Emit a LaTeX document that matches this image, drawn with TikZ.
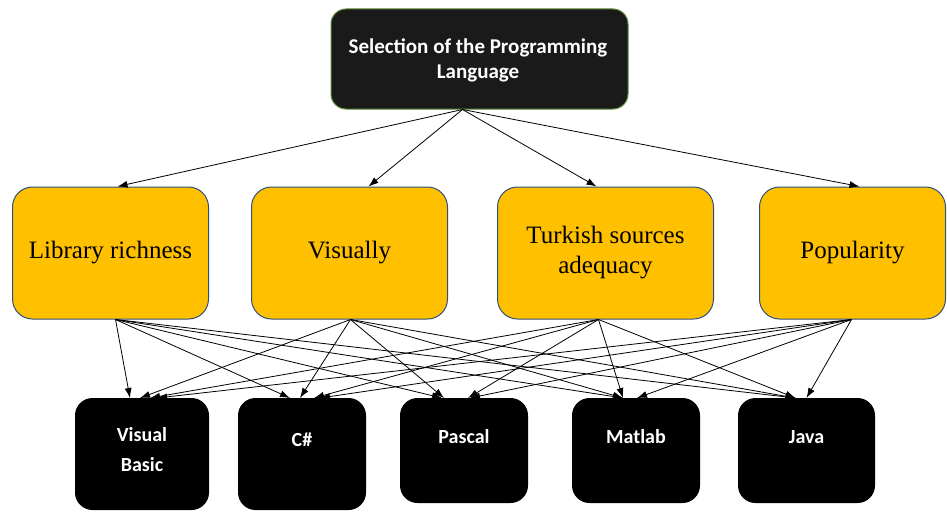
\documentclass[tikz,border=0pt]{standalone}
\usepackage{fontspec}
\setmainfont{Liberation Serif}
\newfontfamily\carlitofont{Carlito}
\usetikzlibrary{arrows.meta}
\definecolor{gold}{HTML}{FFC000}
\definecolor{bluebd}{HTML}{2F4F7F}
\definecolor{topfill}{HTML}{1A1A1A}
\definecolor{topbd}{HTML}{5E8C3A}
\tikzset{
  topbox/.style={draw=topbd, fill=topfill, line width=1pt, rounded corners=15pt, minimum width=297pt, minimum height=100pt, inner sep=0pt},
  toptxt/.style={text=white, font=\carlitofont\bfseries\fontsize{21}{25}\selectfont, align=center},
  midbox/.style={draw=bluebd, fill=gold, line width=1pt, rounded corners=20pt, minimum height=132pt, inner sep=0pt, font=\fontsize{25}{30}\selectfont, align=center},
  botbox/.style={draw=black, fill=black, line width=1pt, rounded corners=17pt, inner sep=0pt},
  bottxt/.style={text=white, font=\carlitofont\bfseries\fontsize{20}{30}\selectfont, align=center},
  arr/.style={draw=black, line width=0.8pt, -{Latex[length=10pt,width=7pt]}}
}
\begin{document}
\begin{tikzpicture}[x=1pt,y=-1pt]
\useasboundingbox (0,0) rectangle (947,511);
\node[topbox] (top) at (479.5,59) {};
\node[toptxt] (topt) at (478,60.5) {Selection of the Programming\\Language};

\node[midbox, minimum width=196pt] (lib) at (110.5,253) {Library richness};
\node[midbox, minimum width=196pt] (vis) at (349.5,253) {Visually};
\node[midbox, minimum width=216pt] (tur) at (605.5,253) {Turkish sources\\adequacy};
\node[midbox, minimum width=186pt] (pop) at (852.5,253) {Popularity};

\node[botbox, minimum width=133pt, minimum height=111pt] (vb) at (142,454) {};
\node[botbox, minimum width=127pt, minimum height=111pt] (cs) at (302,454) {};
\node[botbox, minimum width=127pt, minimum height=104pt] (pa) at (464,450.5) {};
\node[botbox, minimum width=127pt, minimum height=104pt] (ma) at (636,450.5) {};
\node[botbox, minimum width=136pt, minimum height=104pt] (ja) at (806.5,450.5) {};

\node[bottxt] (vbt) at (142,450) {Visual\\Basic};
\node[bottxt] (cst) at (302,440) {C\#};
\node[bottxt] (pat) at (464,437) {Pascal};
\node[bottxt] (mat) at (636,437) {Matlab};
\node[bottxt] (jat) at (806.5,437) {Java};

\coordinate (ts) at ([xshift=-17pt]top.south);
\draw[arr] (ts) -- ([xshift=7pt]lib.north);
\draw[arr] (ts) -- ([xshift=19pt]vis.north);
\draw[arr] (ts) -- ([xshift=-9pt]tur.north);
\draw[arr] (ts) -- ([xshift=7pt]pop.north);

\coordinate (ls) at ([xshift=5pt]lib.south);
\coordinate (vs) at ([xshift=1pt]vis.south);
\coordinate (us) at ([xshift=-7pt]tur.south);
\coordinate (ps) at ([xshift=-1pt]pop.south);

\draw[arr] (ls) -- ([xshift=-12pt]vb.north);
\draw[arr] (vs) -- ([xshift=-2pt]vb.north);
\draw[arr] (us) -- ([xshift=8pt]vb.north);
\draw[arr] (ps) -- ([xshift=15pt]vb.north);

\draw[arr] (ls) -- ([xshift=-12pt]cs.north);
\draw[arr] (vs) -- ([xshift=-2pt]cs.north);
\draw[arr] (us) -- ([xshift=12pt]cs.north);
\draw[arr] (ps) -- ([xshift=18pt]cs.north);

\draw[arr] (ls) -- ([xshift=-22pt]pa.north);
\draw[arr] (vs) -- ([xshift=-20pt]pa.north);
\draw[arr] (us) -- ([xshift=4pt]pa.north);
\draw[arr] (ps) -- ([xshift=6pt]pa.north);

\draw[arr] (ls) -- ([xshift=-13pt]ma.north);
\draw[arr] (vs) -- ([xshift=-13pt]ma.north);
\draw[arr] (us) -- ([xshift=-13pt]ma.north);
\draw[arr] (ps) -- ([xshift=1pt]ma.north);

\draw[arr] (ls) -- ([xshift=-11pt]ja.north);
\draw[arr] (vs) -- ([xshift=-11pt]ja.north);
\draw[arr] (us) -- ([xshift=-11pt]ja.north);
\draw[arr] (ps) -- ([xshift=0pt]ja.north);
\end{tikzpicture}
\end{document}
